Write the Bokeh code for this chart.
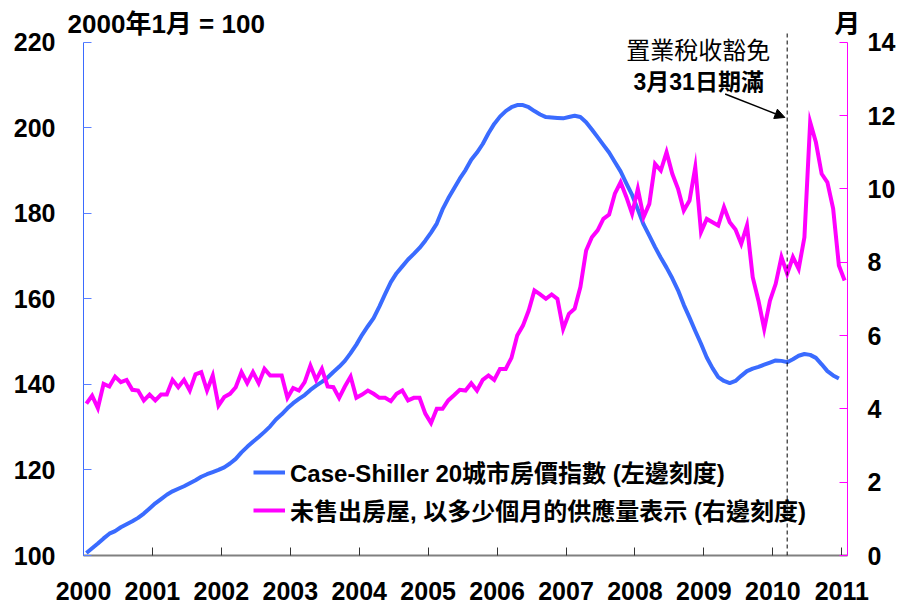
from bokeh.plotting import figure
from bokeh.models import (Range1d, LinearAxis, FixedTicker, Label, Arrow, NormalHead,
                          Legend, LegendItem, ColumnDataSource)
from bokeh.embed import file_html
from bokeh.resources import INLINE

# ---------------- data ----------------
year_labels = ["2000", "2001", "2002", "2003", "2004", "2005",
               "2006", "2007", "2008", "2009", "2010", "2011"]
year_ticks = [0, 12, 24, 36, 48, 60, 72, 84, 96, 108, 120, 132]  # month index of each January
left_ticks = [100, 120, 140, 160, 180, 200, 220]
right_ticks = [0, 2, 4, 6, 8, 10, 12, 14]

# Case-Shiller 20-city index, monthly Jan 2000 - Dec 2010 (Jan 2000 = 100)
cs_index = [
    100.6, 101.7, 102.8, 104.0, 105.1, 105.7, 106.6, 107.3, 108.0, 108.8, 109.8, 111.0,
    112.2, 113.2, 114.2, 115.0, 115.6, 116.2, 116.9, 117.6, 118.4, 119.0, 119.5, 120.0,
    120.6, 121.5, 122.6, 124.1, 125.4, 126.6, 127.7, 128.9, 130.2, 131.8, 133.0, 134.4,
    135.6, 136.6, 137.5, 138.7, 139.7, 140.6, 141.6, 142.9, 144.1, 145.5, 147.3, 149.3,
    151.6, 153.6, 155.5, 158.2, 161.1, 163.9, 166.0, 167.6, 169.2, 170.5, 171.9, 173.6,
    175.5, 177.6, 180.9, 183.5, 185.8, 188.1, 190.1, 192.5, 194.2, 196.2, 198.7, 200.9,
    202.6, 203.9, 204.8, 205.3, 205.3, 204.8, 203.9, 203.1, 202.5, 202.4, 202.3, 202.2,
    202.5, 202.8, 202.5, 201.3, 199.6, 197.8, 196.0, 194.2, 192.0, 189.8, 187.0, 184.3,
    180.9, 177.4, 174.8, 172.1, 169.6, 167.3, 164.8, 162.0, 158.6, 155.6, 152.5, 149.5,
    146.3, 143.8, 141.7, 140.8, 140.3, 140.8, 142.0, 143.1, 143.7, 144.1, 144.6, 145.1,
    145.6, 145.5, 145.2, 145.9, 146.7, 147.1, 146.9, 146.2, 144.7, 143.1, 142.1, 141.4,
]

# Unsold homes, months of supply, Jan 2000 - Jan 2011
months_supply = [
    4.14, 4.36, 4.02, 4.68, 4.61, 4.88, 4.73, 4.79, 4.52, 4.50, 4.23, 4.39,
    4.23, 4.39, 4.39, 4.79, 4.59, 4.79, 4.50, 4.94, 5.00, 4.50, 4.91, 4.09,
    4.32, 4.41, 4.59, 5.00, 4.70, 5.00, 4.70, 5.09, 4.91, 4.91, 4.91, 4.30,
    4.57, 4.50, 4.73, 5.18, 4.79, 5.09, 4.61, 4.59, 4.30, 4.61, 4.88, 4.30,
    4.39, 4.50, 4.41, 4.30, 4.30, 4.21, 4.41, 4.50, 4.23, 4.30, 4.30, 3.87,
    3.61, 4.00, 4.00, 4.23, 4.37, 4.52, 4.50, 4.70, 4.50, 4.79, 4.91, 4.79,
    5.09, 5.09, 5.39, 6.00, 6.27, 6.68, 7.23, 7.12, 7.00, 7.12, 7.00, 6.18,
    6.59, 6.73, 7.32, 8.32, 8.68, 8.87, 9.18, 9.30, 9.87, 10.18, 9.78, 9.32,
    10.00, 9.23, 9.59, 10.68, 10.50, 11.00, 10.41, 10.00, 9.41, 9.68, 10.59, 8.82,
    9.18, 9.09, 9.00, 9.50, 9.09, 8.89, 8.50, 9.00, 7.59, 6.95, 6.18, 6.95,
    7.41, 8.14, 7.68, 8.14, 7.82, 8.68, 11.82, 11.27, 10.41, 10.18, 9.46, 7.91,
    7.50,
]

tax_expiry_month = 122.5   # end of March 2010, in month units

title_text = "2000年1月 = 100"
right_unit = "月"
note_line1 = "置業稅收豁免"
note_line2 = "3月31日期滿"
legend_cs = "Case-Shiller 20城市房價指數 (左邊刻度)"
legend_ms = "未售出房屋, 以多少個月的供應量表示 (右邊刻度)"

# ---------------- figure ----------------
FONT = "Liberation Sans, Noto Sans CJK TC"
NUMFONT = "Liberation Sans"
BLUE = "#3A6BFF"
MAGENTA = "#FF00FF"

W, H = 901, 610
LEFT, RIGHT, TOP, BOTTOM = 83, 54, 32, 55
frame_h = H - TOP - BOTTOM
px_per_left = 513.3 / 120.0                  # 100..220 spans 513.3 px
left_top = 100 + frame_h / px_per_left       # small head-room above 220 for the marker line
right_top = frame_h / (513.3 / 14.0)

p = figure(width=W, height=H, x_range=Range1d(0, 133), y_range=Range1d(100, left_top),
           output_backend="svg", toolbar_location=None,
           min_border_left=LEFT, min_border_right=RIGHT, min_border_top=TOP,
           min_border_bottom=BOTTOM)
p.outline_line_color = None
p.xgrid.visible = False
p.ygrid.visible = False
p.background_fill_color = "white"

p.extra_y_ranges = {"right": Range1d(0, right_top)}

cs_src = ColumnDataSource(dict(x=[i + 0.5 for i in range(len(cs_index))], y=cs_index))
ms_src = ColumnDataSource(dict(x=[i + 0.5 for i in range(len(months_supply))], y=months_supply))

r_cs = p.line("x", "y", source=cs_src, line_color=BLUE, line_width=4, line_join="round")
r_ms = p.line("x", "y", source=ms_src, line_color=MAGENTA, line_width=4, line_join="miter",
              y_range_name="right")

# x axis
xa = p.xaxis[0]
xa.ticker = FixedTicker(ticks=year_ticks)
xa.major_label_overrides = {t: l for t, l in zip(year_ticks, year_labels)}
xa.minor_tick_line_color = None
xa.major_tick_in = 8
xa.major_tick_out = 0
xa.major_tick_line_color = "#333333"
xa.axis_line_color = "#808080"
xa.axis_line_width = 2
xa.major_label_text_font = NUMFONT
xa.major_label_text_font_size = "25px"
xa.major_label_text_font_style = "bold"
xa.major_label_text_color = "black"
xa.major_label_standoff = 26

# left axis
ya = p.yaxis[0]
ya.ticker = FixedTicker(ticks=left_ticks)
ya.bounds = (100, 220)
ya.minor_tick_line_color = None
ya.major_tick_in = 8
ya.major_tick_out = 0
ya.major_tick_line_color = "#5A80FF"
ya.axis_line_color = BLUE
ya.axis_line_width = 1
ya.major_label_text_font = NUMFONT
ya.major_label_text_font_size = "25px"
ya.major_label_text_font_style = "bold"
ya.major_label_text_color = "black"
ya.major_label_standoff = 28

# right axis
ra = LinearAxis(y_range_name="right", ticker=FixedTicker(ticks=right_ticks), bounds=(0, 14))
ra.minor_tick_line_color = None
ra.major_tick_in = 8
ra.major_tick_out = 0
ra.major_tick_line_color = MAGENTA
ra.axis_line_color = MAGENTA
ra.axis_line_width = 1
ra.major_label_text_font = NUMFONT
ra.major_label_text_font_size = "25px"
ra.major_label_text_font_style = "bold"
ra.major_label_text_color = "black"
ra.major_label_standoff = 20
p.add_layout(ra, "right")

# top texts (index base note and right-scale unit) as labels of a line-less top axis
top_ticks = [14.4, 132.95]
ta = LinearAxis(ticker=FixedTicker(ticks=top_ticks),
                major_label_overrides={top_ticks[0]: title_text, top_ticks[1]: right_unit})
ta.axis_line_color = None
ta.major_tick_line_color = None
ta.minor_tick_line_color = None
ta.major_label_standoff = -12
ta.major_label_text_font = FONT
ta.major_label_text_font_size = "26px"
ta.major_label_text_font_style = "bold"
ta.major_label_text_color = "black"
p.add_layout(ta, "above")

# legend
legend = Legend(items=[LegendItem(label=legend_cs, renderers=[r_cs]),
                       LegendItem(label=legend_ms, renderers=[r_ms])],
                location=(170, 28), orientation="vertical",
                glyph_width=32, glyph_height=28, label_height=28, spacing=3,
                label_standoff=5, padding=0, margin=0,
                border_line_color=None, background_fill_alpha=0,
                label_text_font=FONT, label_text_font_size="24px",
                label_text_font_style="bold", label_text_color="black")
p.add_layout(legend)

# annotation
p.add_layout(Label(x=107.0, y=218.0, text=note_line1, text_font=FONT, text_font_size="24px",
                   text_align="center", text_baseline="middle", text_color="black"))
p.add_layout(Label(x=107.1, y=210.6, text=note_line2, text_font=FONT, text_font_size="23px",
                   text_font_style="bold", text_align="center", text_baseline="middle",
                   text_color="black"))

# dashed marker line and arrow
p.add_layout(Arrow(end=None, x_start=tax_expiry_month, y_start=100, x_end=tax_expiry_month,
                   y_end=222.3, line_dash="4 3", line_color="black", line_width=1))
p.add_layout(Arrow(end=NormalHead(size=10, fill_color="black", line_color="black"),
                   x_start=111.7, y_start=207.9, x_end=122.1, y_end=202.4,
                   line_color="black", line_width=1.5))

open("out.html", "w").write(file_html(p, INLINE))
